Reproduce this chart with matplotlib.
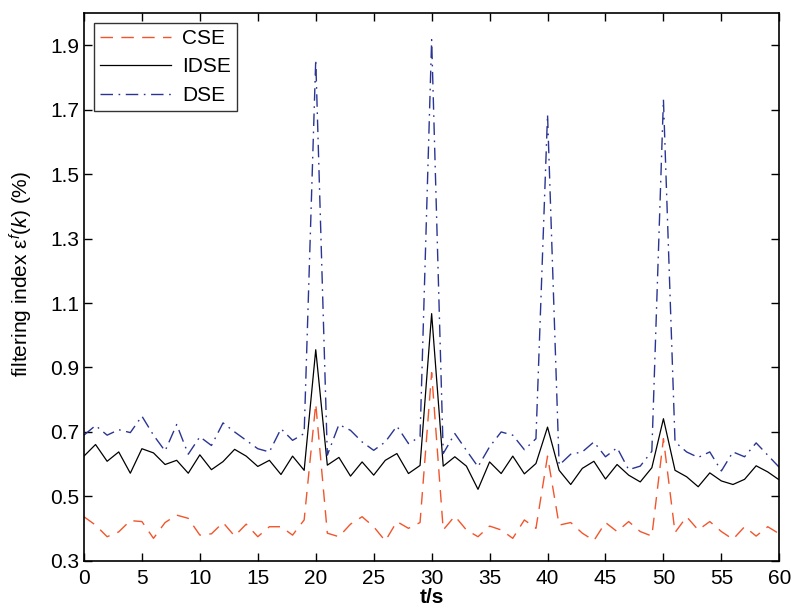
import numpy as np
import matplotlib
matplotlib.use("Agg")
import matplotlib.pyplot as plt

plt.rcParams['font.family'] = ['Liberation Sans', 'DejaVu Sans']
plt.rcParams['mathtext.fontset'] = 'custom'
plt.rcParams['mathtext.rm'] = 'Liberation Sans'
plt.rcParams['mathtext.it'] = 'Liberation Sans:italic'

t = np.arange(0, 61)

cse = [0.437, 0.411, 0.375, 0.390, 0.425, 0.422, 0.370, 0.419, 0.442, 0.432,
       0.380, 0.384, 0.419, 0.377, 0.414, 0.375, 0.406, 0.406, 0.380, 0.427,
       0.788, 0.386, 0.375, 0.414, 0.437, 0.406, 0.362, 0.422, 0.401, 0.419,
       0.884, 0.396, 0.439, 0.396, 0.375, 0.408, 0.396, 0.370, 0.427, 0.401,
       0.625, 0.411, 0.419, 0.386, 0.363, 0.419, 0.391, 0.422, 0.391, 0.377,
       0.679, 0.388, 0.437, 0.396, 0.422, 0.391, 0.367, 0.406, 0.377, 0.406,
       0.384]

idse = [0.625, 0.661, 0.609, 0.638, 0.572, 0.648, 0.635, 0.599, 0.612, 0.572,
        0.629, 0.583, 0.608, 0.646, 0.625, 0.593, 0.612, 0.568, 0.625, 0.581,
        0.955, 0.597, 0.621, 0.563, 0.607, 0.566, 0.612, 0.633, 0.571, 0.596,
        1.067, 0.594, 0.623, 0.594, 0.522, 0.607, 0.571, 0.625, 0.570, 0.602,
        0.715, 0.581, 0.537, 0.587, 0.609, 0.554, 0.599, 0.566, 0.545, 0.589,
        0.741, 0.581, 0.561, 0.530, 0.573, 0.548, 0.537, 0.553, 0.595, 0.576,
        0.551]

dse = [0.690, 0.720, 0.690, 0.707, 0.698, 0.749, 0.690, 0.641, 0.723, 0.631,
       0.685, 0.658, 0.728, 0.700, 0.674, 0.648, 0.638, 0.710, 0.674, 0.695,
       1.855, 0.628, 0.723, 0.705, 0.669, 0.643, 0.669, 0.718, 0.664, 0.685,
       1.917, 0.633, 0.695, 0.643, 0.592, 0.654, 0.700, 0.690, 0.645, 0.679,
       1.685, 0.597, 0.631, 0.638, 0.669, 0.623, 0.651, 0.583, 0.594, 0.640,
       1.731, 0.669, 0.638, 0.621, 0.638, 0.579, 0.638, 0.623, 0.666, 0.628,
       0.590]

fig = plt.figure(figsize=(7.92, 6.13), dpi=100)
ax = fig.add_axes([0.106, 0.085, 0.878, 0.894])

ax.plot(t, cse, color='#f2552c', lw=1.0, dashes=(9, 6), label='CSE')
ax.plot(t, idse, color='black', lw=0.9, label='IDSE')
ax.plot(t, dse, color='#2a3593', lw=1.0, dashes=(9, 4, 1.2, 4), label='DSE')

ax.set_xlim(0, 60)
ax.set_ylim(0.3, 2.0)
ax.set_xticks(np.arange(0, 61, 5))
ax.set_yticks(np.arange(0.3, 1.95, 0.2))
ax.set_yticklabels(['0.3', '0.5', '0.7', '0.9', '1.1', '1.3', '1.5', '1.7', '1.9'])
ax.tick_params(direction='in', top=True, right=True, labelsize=15, length=6, width=1)
ax.tick_params(axis='x', pad=6)
for s in ax.spines.values():
    s.set_linewidth(1.2)

ax.set_xlabel('t/s', fontsize=15, fontweight='bold', labelpad=0)
ax.set_ylabel(r'filtering index ε$^{\mathit{f}}$$\mathit{(k)}$ (%)', fontsize=15)
ax.yaxis.set_label_coords(-0.07, 0.524)

leg = ax.legend(loc='upper left', fontsize=15, frameon=True, fancybox=False,
                edgecolor='black', handlelength=3.4, handletextpad=0.55,
                labelspacing=0.45, borderpad=0.28, borderaxespad=0.5)
leg.get_frame().set_linewidth(1.0)

fig.savefig('out.png', dpi=100)
